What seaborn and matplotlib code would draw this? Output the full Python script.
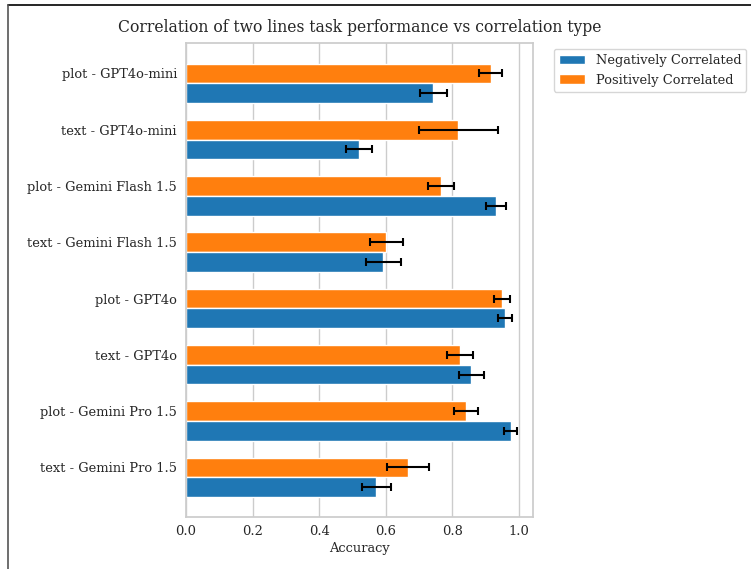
import numpy as np
import pandas as pd
import matplotlib
matplotlib.use("Agg")
import matplotlib.pyplot as plt
from matplotlib.lines import Line2D
import seaborn as sns

labels = ['plot - GPT4o-mini', 'text - GPT4o-mini', 'plot - Gemini Flash 1.5',
          'text - Gemini Flash 1.5', 'plot - GPT4o', 'text - GPT4o',
          'plot - Gemini Pro 1.5', 'text - Gemini Pro 1.5']
neg_acc = [0.743, 0.519, 0.931, 0.593, 0.958, 0.857, 0.975, 0.572]
neg_err = [0.041, 0.039, 0.031, 0.052, 0.021, 0.037, 0.019, 0.045]
pos_acc = [0.915, 0.818, 0.765, 0.602, 0.949, 0.822, 0.840, 0.667]
pos_err = [0.034, 0.118, 0.039, 0.050, 0.023, 0.039, 0.036, 0.062]

NEG = 'Negatively Correlated'
POS = 'Positively Correlated'

df = pd.DataFrame({
    'Task': labels * 2,
    'Accuracy': pos_acc + neg_acc,
    'Type': [POS] * len(labels) + [NEG] * len(labels),
})

sns.set_theme(style="whitegrid", font="serif")

fs = 9.4

fig = plt.figure(figsize=(7.51, 5.69), dpi=100)
ax = fig.add_axes([0.2477, 0.0919, 0.4620, 0.8331])

pal = {NEG: '#1f77b4', POS: '#ff7f0e'}
sns.barplot(data=df, y='Task', x='Accuracy', hue='Type', hue_order=[POS, NEG],
            palette=pal, saturation=1, orient='h', width=0.7, ax=ax)

# error bars drawn over the dodged bars
idx = np.arange(len(labels))
ax.errorbar(pos_acc, idx - 0.175, xerr=pos_err, fmt='none', ecolor='black',
            elinewidth=1.5, capsize=2.8, capthick=1.5)
ax.errorbar(neg_acc, idx + 0.175, xerr=neg_err, fmt='none', ecolor='black',
            elinewidth=1.5, capsize=2.8, capthick=1.5)

ax.set_yticks(idx - 0.175)
ax.set_yticklabels(labels, fontsize=fs)
ax.set_ylim(7.70, -0.72)
ax.set_xlim(0, 1.042)
ax.tick_params(axis='both', length=0, labelsize=fs)
ax.tick_params(axis='y', pad=6.5)
ax.tick_params(axis='x', pad=6)
ax.set_ylabel('')
ax.set_xlabel('Accuracy', fontsize=fs, labelpad=3)
ax.set_title('Correlation of two lines task performance vs correlation type',
             fontsize=11.25, pad=8)

handles, lbls = ax.get_legend_handles_labels()
order = [lbls.index(NEG), lbls.index(POS)]
ax.legend([handles[i] for i in order], [lbls[i] for i in order],
          loc='upper left', bbox_to_anchor=(1.06, 0.987), borderaxespad=0,
          fontsize=fs)

# frame of the original figure (cropped at right / bottom)
fig.add_artist(Line2D([8 / 751, 1], [1 - 5 / 569, 1 - 5 / 569], color='black', lw=1.2))
fig.add_artist(Line2D([8 / 751, 8 / 751], [0, 1 - 5 / 569], color='#555555', lw=1.2))

fig.savefig('out.png', dpi=100)
